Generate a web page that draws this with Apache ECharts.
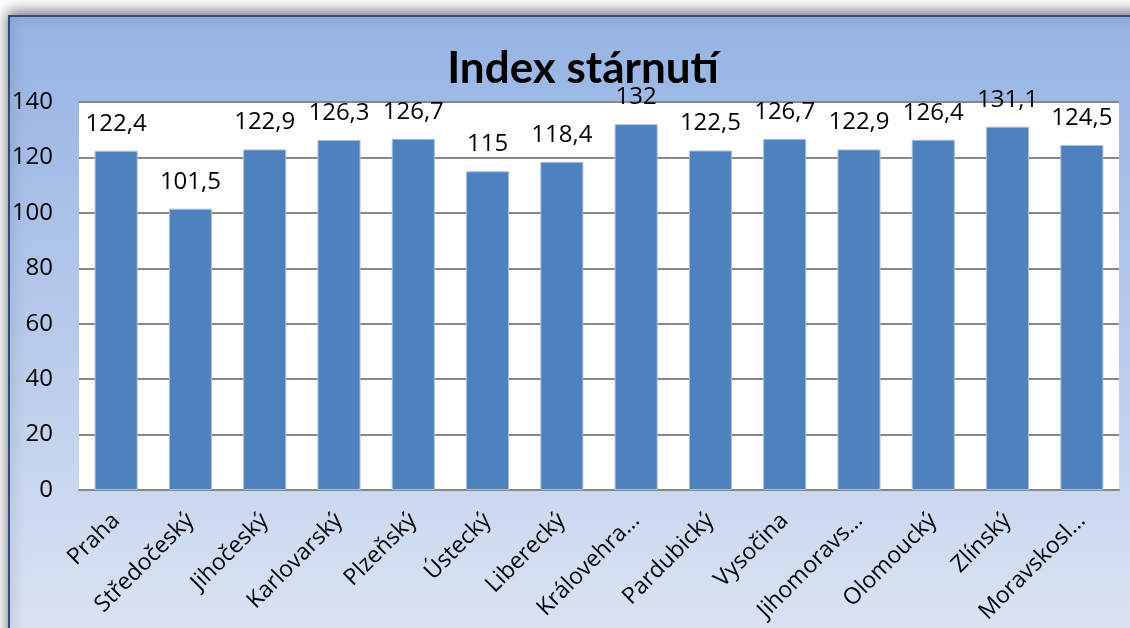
<!DOCTYPE html>
<html>
<head>
<meta charset="utf-8">
<script src="https://cdn.jsdelivr.net/npm/echarts@6/dist/echarts.min.js"></script>
<style>
html,body{margin:0;padding:0;background:#ffffff;}
#chart{width:1130px;height:628px;}
</style>
</head>
<body>
<div id="chart"></div>
<script>
var categories = ['Praha','Středočeský','Jihočeský','Karlovarský','Plzeňský','Ústecký','Liberecký','Královehra…','Pardubický','Vysočina','Jihomoravs…','Olomoucký','Zlínský','Moravskosl…'];
var values = [122.4, 101.5, 122.9, 126.3, 126.7, 115, 118.4, 132, 122.5, 126.7, 122.9, 126.4, 131.1, 124.5];
var yTicks = [0, 20, 40, 60, 80, 100, 120, 140];
var titleText = 'Index stárnutí';

var FONT = '"Open Sans", sans-serif';
var chart = echarts.init(document.getElementById('chart'), null, {renderer:'canvas'});
chart.setOption({
  animation:false,
  backgroundColor:'#ffffff',
  graphic:[{
    type:'rect', z:-10, silent:true,
    shape:{x:9, y:16, width:1160, height:640},
    style:{
      fill:new echarts.graphic.LinearGradient(0,0,0,1,[{offset:0,color:'#95B3E3'},{offset:0.45,color:'#B4C8EA'},{offset:1,color:'#DDE5F4'}]),
      stroke:'#2E4C7C', lineWidth:2,
      shadowBlur:14, shadowColor:'rgba(0,0,0,0.55)', shadowOffsetY:-3, shadowOffsetX:0
    }
  }],
  title:{
    text:titleText, left:578, top:42, textAlign:'center',
    textStyle:{fontFamily:'Lato, "Open Sans", sans-serif', fontWeight:'bold', fontSize:44, color:'#000'}
  },
  grid:{left:79, top:102, right:11, bottom:138, show:true, backgroundColor:'#ffffff', borderWidth:0, containLabel:false, outerBoundsMode:'none'},
  xAxis:{
    type:'category', data:categories,
    axisLine:{show:true, lineStyle:{color:'#888888', width:2}},
    axisTick:{show:false},
    axisLabel:{rotate:45, interval:0, margin:27, fontFamily:FONT, fontSize:23, color:'#000'}
  },
  yAxis:{
    type:'value', min:0, max:140, interval:20,
    axisLine:{show:false}, axisTick:{show:false},
    splitLine:{show:true, lineStyle:{color:'#888888', width:2}},
    axisLabel:{margin:26, fontFamily:FONT, fontSize:24, color:'#000',
      formatter:function(v){return yTicks.indexOf(v)>=0 ? String(v) : '';}}
  },
  series:[{
    type:'bar', data:values, barCategoryGap:'42%',
    itemStyle:{color:'#4F81BD', borderColor:'#A9C0E0', borderWidth:1},
    label:{show:true, position:'top', distance:15, fontFamily:FONT, fontSize:24, color:'#000',
      formatter:function(p){return String(p.value).replace('.',',');}}
  }]
});
</script>
</body>
</html>
